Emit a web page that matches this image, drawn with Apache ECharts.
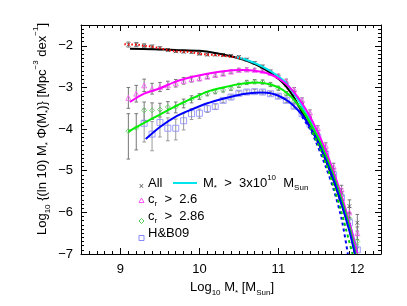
<!DOCTYPE html>
<html><head><meta charset="utf-8">
<script src="https://cdn.jsdelivr.net/npm/echarts@6/dist/echarts.min.js"></script>
<style>html,body{margin:0;padding:0;background:#fff}#c{width:407px;height:306px}</style>
</head><body><div id="c"></div>
<script>
// ---- data ----
const binX = [9.1,9.2,9.3,9.4,9.5,9.6,9.7,9.8,9.9,10.0,10.1,10.2,10.3,10.4,10.5,10.6,10.7,10.8,10.9,11.0,11.1,11.2,11.3,11.4,11.5,11.6,11.7,11.8,11.9,12.0];
const allY = [-1.97,-1.97,-2.0,-2.02,-2.06,-2.1,-2.13,-2.14,-2.15,-2.19,-2.21,-2.21,-2.22,-2.24,-2.27,-2.33,-2.41,-2.5,-2.62,-2.75,-2.92,-3.14,-3.42,-3.76,-4.15,-4.58,-5.05,-5.55,-5.85,-6.25];
const allErr = [0.06,0.05,0.05,0.04,0.04,0.03,0.03,0.03,0.03,0.03,0.03,0.03,0.03,0.03,0.03,0.03,0.03,0.04,0.04,0.04,0.05,0.05,0.06,0.06,0.07,0.08,0.1,0.12,0.15,0.2];
const magY = [-3.25,-3.15,-2.95,-3.03,-2.99,-2.95,-2.9,-2.84,-2.8,-2.78,-2.74,-2.7,-2.67,-2.62,-2.58,-2.57,-2.58,-2.6,-2.65,-2.72,-2.85,-3.05,-3.3,-3.6,-3.98,-4.4,-4.9,-5.45,-6.0,-6.5];
const magErr = [0.25,0.2,0.15,0.13,0.11,0.1,0.09,0.08,0.07,0.06,0.05,0.05,0.04,0.04,0.04,0.04,0.04,0.04,0.04,0.04,0.05,0.05,0.05,0.06,0.06,0.07,0.08,0.1,0.12,0.15];
const grnY = [-4.05,-3.97,-3.55,-3.55,-3.53,-3.47,-3.47,-3.38,-3.28,-3.22,-3.15,-3.1,-3.06,-3.02,-2.95,-2.88,-2.86,-2.87,-2.93,-3.02,-3.15,-3.33,-3.55,-3.85,-4.2,-4.6,-5.1,-5.6,-6.15,-6.7];
const grnErrUp = [0.42,0.34,0.2,0.18,0.15,0.13,0.12,0.1,0.08,0.07,0.05,0.05,0.05,0.05,0.05,0.05,0.05,0.05,0.05,0.05,0.05,0.05,0.05,0.05,0.06,0.07,0.08,0.1,0.12,0.15];
const grnErrDn = [0.67,0.53,0.25,0.22,0.18,0.15,0.14,0.11,0.09,0.07,0.05,0.05,0.05,0.05,0.05,0.05,0.05,0.05,0.05,0.05,0.05,0.05,0.05,0.05,0.06,0.07,0.08,0.1,0.12,0.15];
const hbX = [9.3,9.4,9.5,9.6,9.7,9.8,9.9,10.0,10.1,10.2,10.3,10.4,10.5,10.6,10.7,10.8,10.9,11.0,11.1,11.2,11.3,11.4,11.5,11.6,11.7,11.8,11.9,12.0];
const hbY = [-3.86,-4.12,-3.84,-3.98,-3.98,-3.8,-3.63,-3.62,-3.51,-3.46,-3.31,-3.23,-3.14,-3.11,-3.1,-3.11,-3.15,-3.21,-3.31,-3.45,-3.63,-3.88,-4.2,-4.6,-5.1,-5.65,-6.25,-6.9];
const hbErrUp = [0.35,0.3,0.28,0.25,0.22,0.18,0.12,0.1,0.08,0.06,0.05,0.05,0.05,0.05,0.05,0.05,0.05,0.05,0.05,0.05,0.05,0.05,0.05,0.06,0.07,0.08,0.1,0.12];
const hbErrDn = [0.45,0.4,0.35,0.3,0.28,0.22,0.14,0.12,0.09,0.06,0.05,0.05,0.05,0.05,0.05,0.05,0.05,0.05,0.05,0.05,0.05,0.05,0.05,0.06,0.07,0.08,0.1,0.12];

const redX = [9.05,9.12,9.2,9.3,9.4,9.5,9.6,9.7,9.8,9.9,10.0,10.1,10.2,10.3,10.4,10.5,10.55];
const redY = [-1.96,-1.97,-1.97,-2.0,-2.02,-2.06,-2.1,-2.13,-2.14,-2.15,-2.19,-2.21,-2.22,-2.24,-2.26,-2.29,-2.31];
const fitAllX = [9.12,9.4,9.7,10.0,10.2,10.4,10.6,10.8,11.0,11.1,11.2,11.3,11.4,11.5,11.6,11.7,11.8,11.9,11.97];
const fitAllY = [-2.07,-2.08,-2.1,-2.12,-2.17,-2.25,-2.36,-2.53,-2.79,-2.98,-3.25,-3.6,-3.95,-4.3,-4.75,-5.24,-5.8,-6.4,-7.0];
const fitCutX = [10.45,10.6,10.8,11.0,11.1,11.2,11.3,11.4,11.5,11.6,11.7,11.8,11.9,12.0];
const fitCutY = [-2.27,-2.34,-2.5,-2.73,-2.9,-3.15,-3.45,-3.8,-4.18,-4.6,-5.1,-5.65,-6.25,-6.95];
const fitMagX = [9.12,9.3,9.5,9.7,9.9,10.1,10.3,10.5,10.6,10.7,10.8,10.9,11.0,11.1,11.2,11.3,11.4,11.5,11.6,11.7,11.8,11.9,12.0];
const fitMagY = [-3.35,-3.15,-3.02,-2.86,-2.75,-2.67,-2.61,-2.58,-2.58,-2.6,-2.63,-2.69,-2.78,-2.92,-3.12,-3.38,-3.7,-4.08,-4.52,-5.03,-5.6,-6.25,-6.98];
const fitGrnX = [9.1,9.3,9.5,9.7,9.9,10.1,10.3,10.5,10.7,10.8,10.9,11.0,11.1,11.2,11.3,11.4,11.5,11.6,11.7,11.8,11.9,11.98];
const fitGrnY = [-4.06,-3.85,-3.65,-3.45,-3.27,-3.1,-3.0,-2.92,-2.88,-2.89,-2.93,-3.0,-3.12,-3.3,-3.54,-3.84,-4.2,-4.63,-5.13,-5.7,-6.35,-7.0];
const fitHbX = [9.32,9.5,9.7,9.9,10.1,10.3,10.5,10.7,10.8,10.9,11.0,11.1,11.2,11.3,11.4,11.5,11.6,11.7,11.8,11.9,11.97];
const fitHbY = [-4.24,-3.95,-3.7,-3.53,-3.38,-3.27,-3.18,-3.13,-3.12,-3.14,-3.2,-3.3,-3.45,-3.66,-3.95,-4.3,-4.73,-5.22,-5.8,-6.45,-7.0];
const dashHbX = [11.3,11.4,11.47,11.6,11.7,11.8,11.88];
const dashHbY = [-3.7,-4.0,-4.28,-4.9,-5.45,-6.15,-7.0];
const dashGrnX = [11.4,11.5,11.6,11.7,11.8,11.9,11.94];
const dashGrnY = [-3.95,-4.35,-4.82,-5.38,-6.0,-6.72,-7.0];

const xMajor = [9,10,11,12];
const yMajor = [-7,-6,-5,-4,-3,-2];

// ---- build ----
const pair = (xs, ys) => xs.map((x, i) => [x, ys[i]]);
const errData = (xs, ys, up, dn) => xs.map((x, i) => [x, ys[i] - dn[i], ys[i] + up[i]]);
function errSeries(data, color) {
  return {
    type: 'custom', data, z: 2, silent: true, clip: true,
    renderItem: (params, api) => {
      const x = api.value(0), lo = api.value(1), hi = api.value(2);
      const a = api.coord([x, hi]), b = api.coord([x, lo]);
      const c = 1.8;
      const st = {stroke: color, lineWidth: 1};
      return {type: 'group', children: [
        {type: 'line', shape: {x1: a[0], y1: a[1], x2: b[0], y2: b[1]}, style: st},
        {type: 'line', shape: {x1: a[0]-c, y1: a[1], x2: a[0]+c, y2: a[1]}, style: st},
        {type: 'line', shape: {x1: b[0]-c, y1: b[1], x2: b[0]+c, y2: b[1]}, style: st}
      ]};
    }
  };
}
function lineSeries(xs, ys, color, width, type) {
  return {type: 'line', data: pair(xs, ys), showSymbol: false, symbol: 'none', smooth: 0.3,
    z: 4, silent: true, lineStyle: {color, width, type: type || 'solid'}};
}
function scatterSeries(xs, ys, symbol, size, color, z) {
  return {type: 'scatter', data: pair(xs, ys), symbol, symbolSize: size, z: z || 3, silent: true,
    itemStyle: {color: 'rgba(0,0,0,0)', borderColor: color, borderWidth: 1}};
}
const crossPath = 'path://M0,0L10,10M10,0L0,10';
const FONT = 'Liberation Sans';
const tickLine = {color: '#000', width: 1};
function xAx(pos, major, labels) {
  const o = {type: 'value', min: 8.5, max: 12.3, position: pos, splitLine: {show: false},
    axisLine: {show: major, onZero: false, lineStyle: tickLine}};
  if (major) {
    o.axisTick = {show: true, inside: true, length: 6, customValues: xMajor, lineStyle: tickLine};
    o.axisLabel = labels ? {show: true, customValues: xMajor, margin: 9, color: '#000', fontFamily: FONT, fontSize: 13} : {show: false};
  } else {
    o.interval = 0.1;
    o.axisTick = {show: true, inside: true, length: 3, lineStyle: tickLine};
    o.axisLabel = {show: false};
  }
  return o;
}
function yAx(pos, major, labels) {
  const o = {type: 'value', min: -7, max: -1.5, position: pos, splitLine: {show: false},
    axisLine: {show: major, onZero: false, lineStyle: tickLine}};
  if (major) {
    o.axisTick = {show: true, inside: true, length: 6, customValues: yMajor, lineStyle: tickLine};
    o.axisLabel = labels ? {show: true, customValues: yMajor, margin: 8, color: '#000', fontFamily: FONT, fontSize: 13,
      formatter: v => String(v).replace('-', '\u2212')} : {show: false};
  } else {
    o.interval = 0.1;
    o.axisTick = {show: true, inside: true, length: 3, lineStyle: tickLine};
    o.axisLabel = {show: false};
  }
  return o;
}

const rich = {
  n: {fontSize: 13, fontFamily: FONT, color: '#000', lineHeight: 20, verticalAlign: 'middle'},
  sb: {fontSize: 8, fontFamily: FONT, color: '#000', lineHeight: 20, verticalAlign: 'bottom'},
  sp: {fontSize: 8, fontFamily: FONT, color: '#000', lineHeight: 20, verticalAlign: 'top'}
};
const richL = {
  n: {fontSize: 13, fontFamily: FONT, color: '#222', lineHeight: 18, verticalAlign: 'middle'},
  sb: {fontSize: 8, fontFamily: FONT, color: '#222', lineHeight: 18, verticalAlign: 'bottom'},
  sp: {fontSize: 8, fontFamily: FONT, color: '#222', lineHeight: 18, verticalAlign: 'top'}
};
const legText = (x, y, t) => ({type: 'text', x, y, z: 10, style: {text: t, rich: richL, align: 'left', verticalAlign: 'middle'}});

const yTitle = '{n|Log}{sb|10}{n| }{(ln 10) M{sb|*} \u03A6(M{sb|*})} [Mpc{sp|\u22123} dex{sp|\u22121}]';

const option = {
  animation: false,
  backgroundColor: '#fff',
  grid: {left: 81, top: 25, right: 26, bottom: 52, containLabel: false, outerBoundsMode: 'none'},
  xAxis: [xAx('bottom', true, true), xAx('bottom', false), xAx('top', true, false), xAx('top', false)],
  yAxis: [yAx('left', true, true), yAx('left', false), yAx('right', true, false), yAx('right', false)],
  series: [
    errSeries(errData(binX, allY, allErr, allErr), '#777'),
    errSeries(errData(binX, magY, magErr, magErr), '#777'),
    errSeries(errData(binX, grnY, grnErrUp, grnErrDn), '#777'),
    errSeries(errData(hbX, hbY, hbErrUp, hbErrDn), '#999'),
    scatterSeries(binX, allY, crossPath, 4, '#555'),
    scatterSeries(binX, magY, 'triangle', 5, '#ff55ff'),
    scatterSeries(binX, grnY, 'diamond', 5, '#55cc55'),
    scatterSeries(hbX, hbY, 'rect', 6, '#8888ff'),
    lineSeries(fitAllX, fitAllY, '#000', 2),
    lineSeries(fitCutX, fitCutY, '#00e5ee', 2),
    lineSeries(fitMagX, fitMagY, '#ff00ff', 2),
    lineSeries(fitGrnX, fitGrnY, '#00ee00', 2),
    lineSeries(fitHbX, fitHbY, '#0000ff', 2),
    lineSeries(dashHbX, dashHbY, '#0000ff', 2, [3, 3]),
    lineSeries(dashGrnX, dashGrnY, '#00cc00', 2, [3, 3]),
    lineSeries(redX, redY, '#ff0000', 2, [1.5, 2])
  ],
  graphic: [
    {type: 'text', x: 232, y: 287, z: 10, style: {text: '{n|Log}{sb|10}{n| M}{sb|*}{n| [M}{sb|Sun}{n|]}', rich, align: 'center', verticalAlign: 'middle'}},
    {type: 'text', x: 42, y: 129, rotation: Math.PI / 2, z: 10, style: {text: yTitle, rich, fontSize: 13, fontFamily: FONT, fill: '#000', lineHeight: 20, align: 'center', verticalAlign: 'middle'}},
    {type: 'text', x: 141.5, y: 187, z: 10, style: {text: '\u00D7', fontSize: 9, fill: '#555', align: 'center', verticalAlign: 'middle'}},
    legText(148, 183, '{n|All}'),
    {type: 'line', z: 10, shape: {x1: 173, y1: 183, x2: 197, y2: 183}, style: {stroke: '#00e5ee', lineWidth: 2}},
    legText(203, 183, '{n|M}{sb|*}{n|  >  3x10}{sp|10}{n|  M}{sb|Sun}'),
    {type: 'polygon', z: 10, shape: {points: [[141.5, 198], [139, 202.5], [144, 202.5]]}, style: {fill: 'none', stroke: '#ff55ff', lineWidth: 1}},
    legText(148, 199, '{n|c}{sb|r}{n|  >  2.6}'),
    {type: 'polygon', z: 10, shape: {points: [[141.5, 218.5], [144, 221], [141.5, 223.5], [139, 221]]}, style: {fill: 'none', stroke: '#55cc55', lineWidth: 1}},
    legText(148, 216, '{n|c}{sb|r}{n|  >  2.86}'),
    {type: 'rect', z: 10, shape: {x: 139, y: 235.5, width: 5, height: 5}, style: {fill: 'none', stroke: '#8888ff', lineWidth: 1}},
    legText(148, 233, '{n|H&B09}')
  ]
};
const chart = echarts.init(document.getElementById('c'), null, {renderer: 'canvas'});
chart.setOption(option);
</script>
</body></html>
